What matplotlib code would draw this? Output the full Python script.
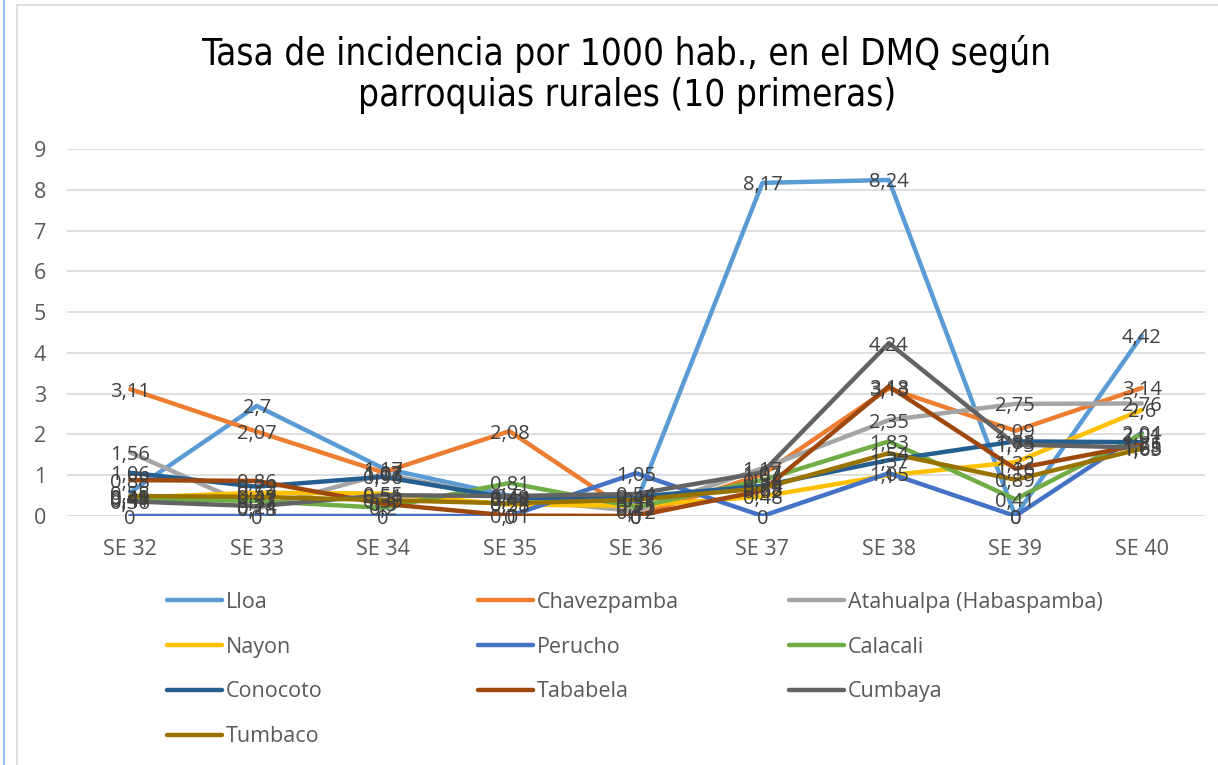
import numpy as np
import matplotlib
matplotlib.use("Agg")
import matplotlib.pyplot as plt
from matplotlib.lines import Line2D

# Datos (semanas epidemiologicas)
semanas = ["SE 32", "SE 33", "SE 34", "SE 35", "SE 36", "SE 37", "SE 38", "SE 39", "SE 40"]

lloa        = [0.58, 2.7, 1.17, 0.5, 0.31, 8.17, 8.24, 0, 4.42]
chavezpamba = [3.11, 2.07, 1.07, 2.08, 0, 1.02, 3.13, 2.09, 3.14]
atahualpa   = [1.56, 0.18, 1.03, 0.42, 0.12, 1.17, 2.35, 2.75, 2.76]
nayon       = [0.45, 0.57, 0.55, 0.28, 0.25, 0.48, 1, 1.32, 2.6]
perucho     = [0, 0, 0, 0, 1.05, 0, 1.05, 0, 2.04]
calacali    = [0.41, 0.37, 0.2, 0.81, 0.22, 0.88, 1.83, 0.41, 2.01]
conocoto    = [1.06, 0.72, 0.96, 0.44, 0.47, 0.74, 1.37, 1.83, 1.81]
tababela    = [0.88, 0.86, 0.3, 0.01, 0, 0.62, 3.18, 1.16, 1.75]
cumbaya     = [0.36, 0.24, 0.51, 0.49, 0.54, 1.07, 4.24, 1.75, 1.68]
tumbaco     = [0.49, 0.47, 0.39, 0.31, 0.4, 0.68, 1.54, 0.89, 1.65]

nombres = ["Lloa", "Chavezpamba", "Atahualpa (Habaspamba)", "Nayon", "Perucho",
           "Calacali", "Conocoto", "Tababela", "Cumbaya", "Tumbaco"]
series = [lloa, chavezpamba, atahualpa, nayon, perucho,
          calacali, conocoto, tababela, cumbaya, tumbaco]
colores = ["#5B9BD5", "#ED7D31", "#A5A5A5", "#FFC000", "#4472C4",
           "#70AD47", "#255E91", "#9E480E", "#636363", "#997300"]

W, H = 1218, 765
fig = plt.figure(figsize=(W / 100, H / 100), dpi=100)
fig.patch.set_facecolor("white")

ax = fig.add_axes([67 / W, 1 - 516 / H, (1205 - 67) / W, (516 - 149) / H])
x = np.arange(len(semanas))

lineas = []
for vals, col, nom in zip(series, colores, nombres):
    ln, = ax.plot(x, vals, color=col, linewidth=3.2, label=nom,
                  solid_capstyle="round", solid_joinstyle="round")
    lineas.append(ln)

# Etiquetas de datos (coma decimal)
for vals in series:
    for xi, v in zip(x, vals):
        txt = f"{v:g}".replace(".", ",")
        ax.text(xi, v, txt, ha="center", va="center_baseline", fontsize=14.5,
                color="#404040", family="Open Sans", zorder=5)

ax.set_xlim(-0.5, len(semanas) - 0.5)
ax.set_ylim(0, 9)
ax.set_yticks(range(0, 10))
ax.set_xticks(x)
ax.set_xticklabels(semanas)

for s in ax.spines.values():
    s.set_visible(False)
ax.yaxis.grid(True, color="#d9d9d9", linewidth=1.2)
ax.set_axisbelow(True)
ax.tick_params(axis="both", length=0, labelsize=15.5, colors="#595959")
ax.tick_params(axis="y", pad=15)
ax.tick_params(axis="x", pad=16.5)
for t in ax.get_xticklabels() + ax.get_yticklabels():
    t.set_family("Open Sans")

# Titulo (baseline de la ultima linea)
fig.text(627 / W, 1 - 106 / H,
         "Tasa de incidencia por 1000 hab., en el DMQ según\nparroquias rurales (10 primeras)",
         ha="center", va="baseline", fontsize=26.5, color="black",
         family="DejaVu Sans", stretch="condensed", linespacing=1.15)

# Leyenda en tres columnas (orden por filas como en Excel)
columnas = [[0, 3, 6, 9], [1, 4, 7], [2, 5, 8]]
col_x = [167, 478, 789]
for cx, idx in zip(col_x, columnas):
    leg = fig.legend([lineas[i] for i in idx], [nombres[i] for i in idx],
                     loc="upper left", bbox_to_anchor=(cx / W, 1 - 592 / H),
                     frameon=False, borderpad=0, borderaxespad=0,
                     handlelength=2.55, handletextpad=0.2, labelspacing=1.1,
                     prop={"family": "Open Sans", "size": 15.5})
    for t in leg.get_texts():
        t.set_color("#595959")

# Borde del area del grafico y borde de la hoja
fig.add_artist(Line2D([17 / W, 17 / W], [0, 1 - 5 / H], color="#d9d9d9",
                      linewidth=1.2, transform=fig.transFigure))
fig.add_artist(Line2D([17 / W, 1], [1 - 5 / H, 1 - 5 / H], color="#d9d9d9",
                      linewidth=1.2, transform=fig.transFigure))
fig.add_artist(Line2D([4 / W, 4 / W], [0, 1], color="#7EB1E3",
                      linewidth=1.2, transform=fig.transFigure))

fig.savefig("out.png", dpi=100, facecolor="white")
